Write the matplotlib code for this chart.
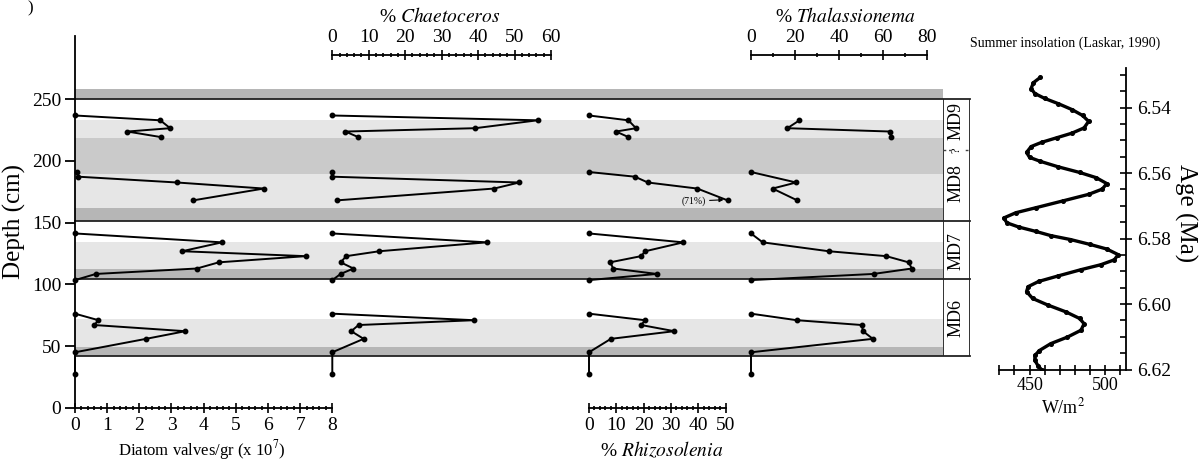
import numpy as np
import matplotlib.pyplot as plt
from matplotlib.ticker import MultipleLocator, FixedLocator

plt.rcParams['font.family'] = ['Liberation Serif', 'DejaVu Serif']
plt.rcParams['mathtext.fontset'] = 'stix'

W, H = 1204, 461
def fx(px): return px / W
def fy(py): return 1 - py / H

# sample depths (cm) per unit
depth_md9 = [236.8, 232.9, 226.5, 223.8, 219.3]
depth_md8 = [191.0, 187.2, 182.5, 177.6, 168.0]
depth_md7 = [141.2, 134.0, 126.8, 122.8, 117.8, 112.8, 108.4, 103.4]
depth_md6 = [76.2, 70.9, 67.0, 62.0, 55.8, 44.9, 27.4]

# diatom valves/gr (x 10^7)
diatoms_md9 = [0, 2.65, 2.96, 1.63, 2.67]
diatoms_md8 = [0.05, 0.1, 3.17, 5.87, 3.67]
diatoms_md7 = [0, 4.57, 3.33, 7.17, 4.47, 3.79, 0.65, 0]
diatoms_md6 = [0, 0.73, 0.6, 3.43, 2.21, 0, 0]

# % Chaetoceros
chaeto_md9 = [0, 56.3, 39.2, 3.6, 7.1]
chaeto_md8 = [0, 0, 51.3, 44.4, 1.2]
chaeto_md7 = [0, 42.4, 12.9, 3.8, 2.3, 5.8, 2.3, 0]
chaeto_md6 = [0, 38.9, 7.2, 5.2, 8.6, 0, 0]

# % Rhizosolenia (168 cm sample plotted at axis end, real value 71%)
rhizo_md9 = [0, 14.4, 17.2, 9.9, 14.4]
rhizo_md8 = [0, 16.8, 21.5, 39.6, 50.7]
rhizo_md7 = [0, 34.5, 20.6, 19.0, 7.7, 8.9, 24.8, 0]
rhizo_md6 = [0, 20.5, 19.1, 31.2, 8.0, 0, 0]

# % Thalassionema
thala_md9 = [np.nan, 22, 16.5, 63.2, 63.6]
thala_md8 = [0, np.nan, 20.5, 9.8, 21]
thala_md7 = [0, 5.3, 35.2, 61.4, 71.5, 73, 55.6, 0]
thala_md6 = [0, 20.8, 50.3, 50.8, 55.3, 0, 0]

# summer insolation (Laskar, 1990)
age_ma = [6.5308, 6.5324, 6.5342, 6.5357, 6.5372, 6.5388, 6.5406, 6.5424, 6.5442,
          6.5462, 6.5478, 6.5492, 6.5506, 6.5519, 6.5537, 6.5552, 6.5564, 6.5581,
          6.5598, 6.5614, 6.5632, 6.5649, 6.5665, 6.5685, 6.5706, 6.5721, 6.5737,
          6.5752, 6.5765, 6.5778, 6.5791, 6.5803, 6.5818, 6.5832, 6.5849, 6.5865,
          6.5880, 6.5895, 6.5914, 6.5931, 6.5947, 6.5962, 6.5983, 6.6003, 6.6024,
          6.6044, 6.6060, 6.6080, 6.6101, 6.6121, 6.6142, 6.6157, 6.6172, 6.6188,
          6.6201]
insol_wm2 = [457, 452.5, 451, 453.5, 460, 469, 478, 485, 489,
             486, 478, 468, 458, 451, 448, 450, 457, 469,
             483, 494, 501, 498, 489, 472, 454, 441, 433,
             435, 443, 454, 464, 477, 490, 501, 508.5, 506,
             497, 484, 469, 456, 449, 448, 452, 462, 474,
             483, 486, 484, 475, 464, 456.5, 453.5, 453.5, 455.5,
             458]

# shaded intervals (cm)
light_bands = [(218.8, 233.0), (161.8, 189.4), (112.0, 134.0), (49.4, 71.6)]
mid_bands = [(189.4, 218.8)]
dark_bands = [(250.2, 258.4), (151.0, 161.8), (104.3, 112.0), (42.0, 49.4)]
boundaries = [250.2, 151.0, 104.3, 42.0]
unit_names = ['MD9', 'MD8', 'MD7', 'MD6']
unit_mid = [232, 182, 127, 73]
uncertain_boundary = 209

depths = [depth_md9, depth_md8, depth_md7, depth_md6]

Y0, Y1 = 407.7, 36.0
DTOP = (Y0 - Y1) / 1.234

fig = plt.figure(figsize=(W / 100, H / 100), dpi=100)

# background + depth axis
ax0 = fig.add_axes([fx(75), fy(Y0), fx(943 - 75), (Y0 - Y1) / H])
ax0.set_xlim(0, 1)
ax0.set_ylim(0, DTOP)
for lo, hi in light_bands:
    ax0.axhspan(lo, hi, color='#e6e6e6', lw=0)
for lo, hi in mid_bands:
    ax0.axhspan(lo, hi, color='#cacaca', lw=0)
for lo, hi in dark_bands:
    ax0.axhspan(lo, hi, color='#b6b6b6', lw=0)
for b in boundaries:
    ax0.axhline(b, xmin=0, xmax=(970 - 75) / (943 - 75), color='#222222', lw=1.3, clip_on=False)
for s in ['top', 'right', 'bottom']:
    ax0.spines[s].set_visible(False)
ax0.spines['left'].set_linewidth(1.3)
ax0.set_xticks([])
ax0.set_yticks(range(0, 251, 50))
ax0.tick_params(axis='y', direction='out', length=7, width=1.3, labelsize=14, pad=3)
ax0.set_ylabel('Depth (cm)', fontsize=18, labelpad=4)

# unit label column
axl = fig.add_axes([fx(943), fy(Y0), fx(970 - 943), (Y0 - Y1) / H])
axl.set_xlim(0, 1)
axl.set_ylim(0, DTOP)
axl.axis('off')
axl.vlines([0, 1], boundaries[-1], boundaries[0], color='#222222', lw=1.3)
axl.hlines(uncertain_boundary, 0, 1, color='#444444', lw=1, linestyles=(0, (2, 2)))
for name, d in zip(unit_names, unit_mid):
    axl.text(0.5, d, name, rotation=90, ha='center', va='center', fontsize=13)
axl.text(0.5, uncertain_boundary, '?', rotation=90, ha='center', va='center', fontsize=9,
         bbox=dict(facecolor='white', edgecolor='none', pad=0))


def panel(left, right, xmax, series, major, minor, spine_depth=None):
    ax = fig.add_axes([fx(left), fy(Y0), fx(right - left), (Y0 - Y1) / H])
    ax.patch.set_alpha(0)
    ax.set_xlim(0, xmax)
    ax.set_ylim(0, DTOP)
    for d, v in zip(depths, series):
        d = np.array(d)
        v = np.array(v, dtype=float)
        ok = ~np.isnan(v)
        ax.plot(v[ok], d[ok], '-o', color='black', lw=1.4, ms=3.2, clip_on=False)
    ax.set_yticks([])
    for s in ['left', 'right']:
        ax.spines[s].set_visible(False)
    if spine_depth is None:
        ax.spines['top'].set_visible(False)
        ax.spines['bottom'].set_bounds(0, xmax)
        ax.spines['bottom'].set_linewidth(1.3)
        ax.xaxis.set_ticks_position('bottom')
    else:
        ax.spines['bottom'].set_visible(False)
        ax.spines['top'].set_position(('data', spine_depth))
        ax.spines['top'].set_bounds(0, xmax)
        ax.spines['top'].set_linewidth(1.3)
        ax.xaxis.set_ticks_position('top')
    ax.xaxis.set_major_locator(MultipleLocator(major))
    ax.xaxis.set_minor_locator(MultipleLocator(minor))
    ax.tick_params(axis='x', which='major', direction='inout', length=7, width=1.2,
                   labelsize=14, pad=3)
    ax.tick_params(axis='x', which='minor', direction='inout', length=3, width=1.2)
    return ax

TOPAX = (Y0 - 55) / 1.234

ax1 = panel(75, 332.3, 8, [diatoms_md9, diatoms_md8, diatoms_md7, diatoms_md6], 1, 0.2)
ax2 = panel(332.3, 551, 60, [chaeto_md9, chaeto_md8, chaeto_md7, chaeto_md6], 10, 2, TOPAX)
ax3 = panel(589, 725.7, 50, [rhizo_md9, rhizo_md8, rhizo_md7, rhizo_md6], 10, 2)
ax4 = panel(751, 927.3, 80, [thala_md9, thala_md8, thala_md7, thala_md6], 20, 10, TOPAX)

ax3.annotate('(71%)', xy=(rhizo_md8[-1] - 1.5, depth_md8[-1] + 0.5), xytext=(-13, -1),
             textcoords='offset points', fontsize=7, ha='right', va='center',
             arrowprops=dict(arrowstyle='-|>', color='black', lw=0.8, mutation_scale=6,
                             shrinkA=1, shrinkB=0))

fig.text(fx(202), fy(450), r'Diatom valves/gr (x 10$^{7}$)', ha='center', va='center', fontsize=12)
fig.text(fx(440), fy(17), r'% $\it{Chaetoceros}$', ha='center', va='center', fontsize=14)
fig.text(fx(662), fy(450), r'% $\it{Rhizosolenia}$', ha='center', va='center', fontsize=14)
fig.text(fx(845), fy(17), r'% $\it{Thalassionema}$', ha='center', va='center', fontsize=14)

# insolation panel
axi = fig.add_axes([fx(999.3), fy(369.5), fx(1125.7 - 999.3), (369.5 - 68) / H])
axi.patch.set_alpha(0)
axi.plot(insol_wm2, age_ma, '-o', color='black', lw=2.4, ms=2.6)
axi.set_xlim(430, 513.5)
axi.set_ylim(6.62, 6.5279)
axi.spines['left'].set_visible(False)
axi.spines['top'].set_visible(False)
axi.spines['bottom'].set_bounds(430, 510)
axi.spines['bottom'].set_linewidth(1.3)
axi.spines['right'].set_linewidth(1.3)
axi.xaxis.set_major_locator(FixedLocator([450, 500]))
axi.xaxis.set_minor_locator(FixedLocator([430, 440, 460, 470, 480, 490, 510]))
axi.tick_params(axis='x', which='both', direction='inout', length=7, width=1.2, labelsize=13, pad=2)
axi.yaxis.tick_right()
axi.yaxis.set_major_locator(MultipleLocator(0.02))
axi.yaxis.set_minor_locator(MultipleLocator(0.005))
axi.yaxis.set_major_formatter(lambda v, p: f'{v:.2f}')
axi.tick_params(axis='y', which='major', direction='inout', length=8, width=1.2, labelsize=14, pad=4)
axi.tick_params(axis='y', which='minor', direction='in', length=4, width=1.2)

fig.text(fx(1065), fy(43), 'Summer insolation (Laskar, 1990)', ha='center', va='center', fontsize=10)
fig.text(fx(1063), fy(407), r'W/m$^{2}$', ha='center', va='center', fontsize=13)
fig.text(fx(1186), fy(213), 'Age (Ma)', rotation=270, ha='center', va='center', fontsize=18)
# remnant of the panel letter at the top-left corner
fig.text(fx(30), fy(0.5), ')', ha='center', va='top', fontsize=12)

fig.savefig('out.png', dpi=100)
